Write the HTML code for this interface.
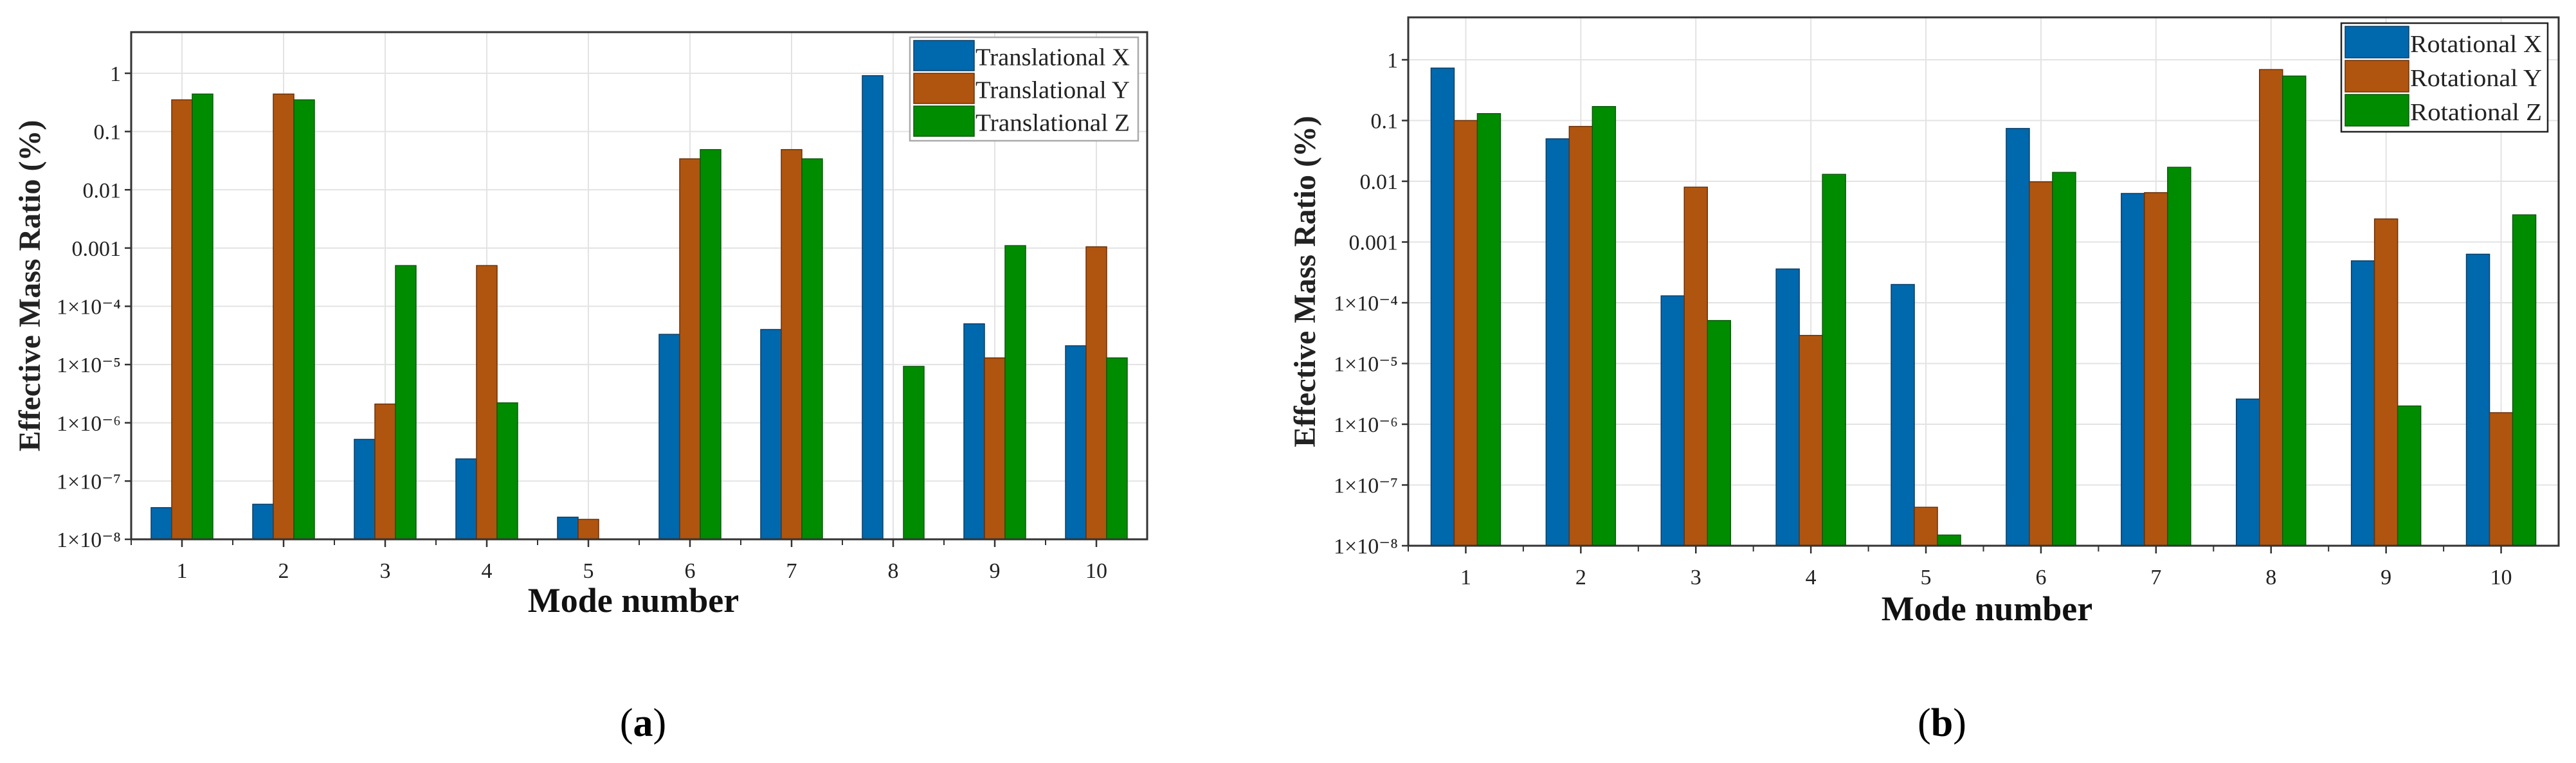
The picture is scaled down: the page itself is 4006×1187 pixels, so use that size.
<!DOCTYPE html>
<html><head><meta charset="utf-8"><style>
html,body{margin:0;padding:0;background:#fff;}
svg{display:block;font-family:"Liberation Serif",serif;}
</style></head><body>
<svg id="fig" width="4006" height="1187" viewBox="0 0 4006 1187" xmlns="http://www.w3.org/2000/svg"></svg>
<script>
const modes = [1,2,3,4,5,6,7,8,9,10];
const transX = [3.5e-8,4e-8,5.2e-7,2.4e-7,2.4e-8,3.3e-5,4e-5,0.91,5e-5,2.1e-5];
const transY = [0.35,0.44,2.1e-6,5e-4,2.2e-8,0.034,0.049,null,1.3e-5,1.05e-3];
const transZ = [0.44,0.35,5e-4,2.2e-6,null,0.049,0.034,9.3e-6,1.1e-3,1.3e-5];
const rotX = [0.73,0.05,1.3e-4,3.6e-4,2e-4,0.074,0.0063,2.6e-6,4.9e-4,6.3e-4];
const rotY = [0.1,0.08,0.008,2.9e-5,4.3e-8,0.0098,0.0065,0.69,2.4e-3,1.55e-6];
const rotZ = [0.13,0.17,5.1e-5,0.013,1.5e-8,0.014,0.017,0.54,2e-6,2.8e-3];
const tickExps = [-8,-7,-6,-5,-4,-3,-2,-1,0];
const tickLabels = ["1×10⁻⁸","1×10⁻⁷","1×10⁻⁶","1×10⁻⁵","1×10⁻⁴","0.001","0.01","0.1","1"];
const transNames = ["Translational X","Translational Y","Translational Z"];
const rotNames = ["Rotational X","Rotational Y","Rotational Z"];
const colors = ["#0068ad","#b0550f","#008c00"];
const borders = ["#0a3f66","#6b3008","#0a5a0a"];

const NS = "http://www.w3.org/2000/svg";
const svg = document.getElementById("fig");
function mk(tag, attrs, parent, text){
  const e = document.createElementNS(NS, tag);
  for (const k in attrs) e.setAttribute(k, attrs[k]);
  if (text !== undefined) e.textContent = text;
  (parent||svg).appendChild(e);
  return e;
}

function chart(cfg){
  const g = mk("g", {});
  
  
  const L=cfg.left, R=cfg.right, T=cfg.top, B=cfg.bottom, y1=cfg.y1;
  const dec = (B - y1)/8;
  const yScale = v => B - (Math.log10(v) + 8)*dec;
  const xScale = m => L + (m - 0.5)*(R-L)/10;
  const step = (R-L)/10;
  modes.forEach(m=>{
    const l = mk("line",{x1:xScale(m),x2:xScale(m),y1:T,y2:B,stroke:"#e3e3e3","stroke-width":2},g);
    
    
  });
  tickExps.forEach((e,i)=>{
    const y = yScale(Math.pow(10,e));
    const l = mk("line",{x1:L,x2:R,y1:y,y2:y,stroke:"#e3e3e3","stroke-width":2},g);
    
    
    const t = mk("line",{x1:L-10,x2:L,y1:y,y2:y,stroke:"#333","stroke-width":2.5},g);
    
    
    const lab = mk("text",{x:L-16,y:y+12,"text-anchor":"end","font-size":cfg.tickFont,fill:"#222"},g,tickLabels[i]);
    
    
  });
  const bw = cfg.barW;
  cfg.series.forEach((ser,si)=>{
    ser.forEach((v,mi)=>{
      if (v===null) return;
      const x = xScale(modes[mi]) + (si-1)*bw - bw/2;
      const y = yScale(v);
      const r = mk("rect",{x:x,y:y,width:bw,height:B-y,fill:colors[si],stroke:borders[si],"stroke-width":1.5},g);
      
      
    });
  });
  const f = mk("rect",{x:L,y:T,width:R-L,height:B-T,fill:"none",stroke:"#333","stroke-width":3},g);
  
  
  modes.forEach(m=>{
    const t = mk("line",{x1:xScale(m),x2:xScale(m),y1:B,y2:B+12,stroke:"#333","stroke-width":2.5},g);
    
    
    const t2 = mk("line",{x1:xScale(m)-step/2,x2:xScale(m)-step/2,y1:B,y2:B+9,stroke:"#333","stroke-width":2},g);
    
    
    const lab = mk("text",{x:xScale(m),y:B+60,"text-anchor":"middle","font-size":cfg.tickFont,fill:"#222"},g,String(m));
    
    
  });
  const yt = mk("text",{x:0,y:0,transform:`translate(${cfg.yTitleX},${(T+B)/2}) rotate(-90)`,"text-anchor":"middle","font-size":cfg.titleFont,"font-weight":"bold",fill:"#222"},g,"Effective Mass Ratio (%)");
  
  
  const xt = mk("text",{x:cfg.xTitleX,y:cfg.xTitleY,"text-anchor":"middle","font-size":cfg.xTitleFont,"font-weight":"bold",fill:"#111"},g,"Mode number");
  
  
  const lg = mk("g",{},g);
  
  
  const lb = mk("rect",{x:cfg.lg.x,y:cfg.lg.y,width:cfg.lg.w,height:cfg.lg.h,fill:"#fff",stroke:cfg.lg.stroke,"stroke-width":2.5},lg);
  
  
  cfg.names.forEach((n,i)=>{
    const ry = cfg.lg.y + 5 + i*cfg.lg.row;
    const sw = mk("rect",{x:cfg.lg.x+6,y:ry,width:cfg.lg.sw,height:cfg.lg.row-4,fill:colors[i],stroke:borders[i],"stroke-width":1.5},lg);
    
    
    const tx = mk("text",{x:cfg.lg.x+8+cfg.lg.sw,y:ry+cfg.lg.row*0.75,"font-size":cfg.lg.font,fill:"#222",textLength:cfg.lg.tl,lengthAdjust:"spacingAndGlyphs"},lg,n);
    
    
  });
  const pl = mk("text",{x:cfg.panelX,y:1145,"text-anchor":"middle","font-size":62,fill:"#000"},g);
  
  
  mk("tspan",{},pl,"(");
  mk("tspan",{"font-weight":"bold"},pl,cfg.panel);
  mk("tspan",{},pl,")");
}

chart({name:"chart-translational",left:204,right:1784,top:50,bottom:839,y1:114,barW:32,
  series:[transX,transY,transZ],names:transNames,tickFont:34,titleFont:48,
  yTitleX:62,xTitleX:985,xTitleY:952,xTitleFont:54,panelX:1000,panel:"a",
  lg:{x:1415,y:58,w:355,h:161,sw:94,row:51,font:38,stroke:"#aaa",tl:240}});
chart({name:"chart-rotational",left:2190,right:3979,top:27,bottom:849,y1:93,barW:36,
  series:[rotX,rotY,rotZ],names:rotNames,tickFont:34,titleFont:48,
  yTitleX:2045,xTitleX:3090,xTitleY:965,xTitleFont:54,panelX:3020,panel:"b",
  lg:{x:3641,y:36,w:321,h:169,sw:99,row:53,font:38,stroke:"#222",tl:205}});
</script>
</body></html>
